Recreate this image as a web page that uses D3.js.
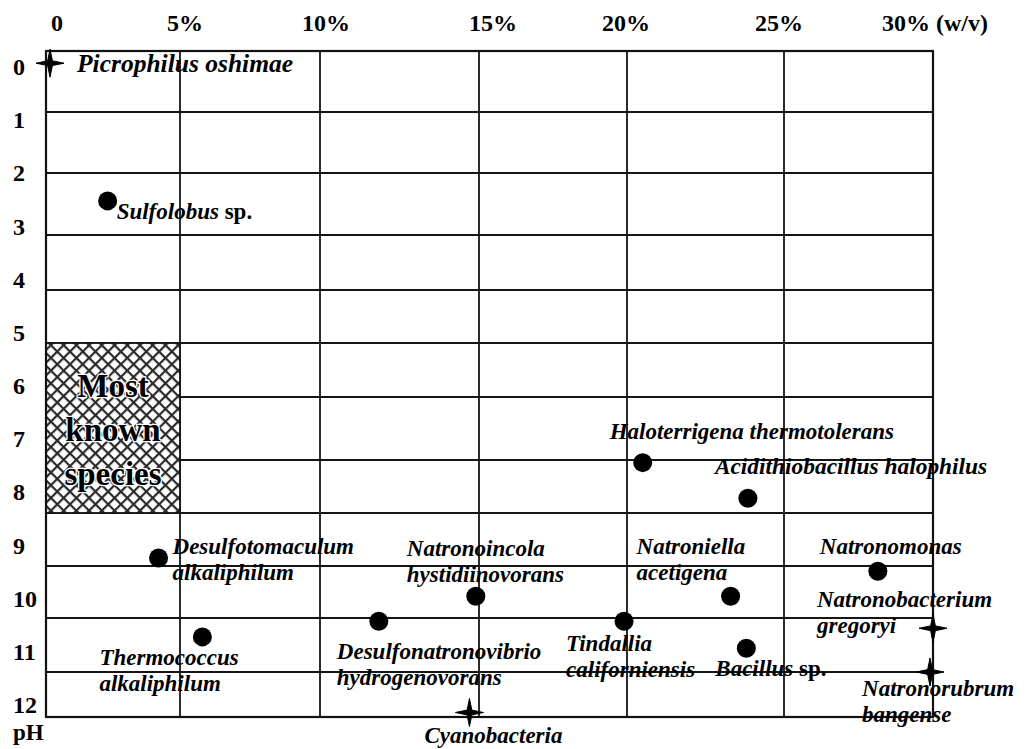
<!DOCTYPE html>
<html><head><meta charset="utf-8">
<script src="https://cdn.jsdelivr.net/npm/d3@7"></script>
<style>html,body{margin:0;padding:0;background:#fff;} svg{display:block;}</style>
</head><body>
<svg id="chart" width="1027" height="749"></svg>
<script>
// ---------- data ----------
const species = [
  "Picrophilus oshimae", "Sulfolobus sp.", "Haloterrigena thermotolerans",
  "Acidithiobacillus halophilus", "Desulfotomaculum alkaliphilum", "Thermococcus alkaliphilum",
  "Natronoincola hystidiinovorans", "Desulfonatronovibrio hydrogenovorans", "Cyanobacteria",
  "Tindallia californiensis", "Natroniella acetigena", "Bacillus sp.",
  "Natronomonas", "Natronobacterium gregoryi", "Natronorubrum bangense"
];
const salinity = [0.15, 2.3, 20.5, 23.85, 4.2, 5.8, 14.9, 11.85, 14.7, 19.9, 23.3, 23.8, 28.15, 30.0, 29.9];
const pHvalue  = [0.2, 2.45, 7.05, 7.72, 8.85, 10.35, 9.58, 10.06, 11.9, 10.06, 9.58, 10.56, 9.1, 10.19, 11.0];
const markerKind = ["star","dot","dot","dot","dot","dot","dot","dot","star","dot","dot","dot","dot","star","star"];
const xTicks = [0, 5, 10, 15, 20, 25, 30];
const xTickLabels = ["0", "5%", "10%", "15%", "20%", "25%", "30% (w/v)"];
const yTicks = [0,1,2,3,4,5,6,7,8,9,10,11,12];
const yTickLabels = yTicks.map(String);
const yAxisTitle = "pH";
const boxText = ["Most", "known", "species"];
const boxSalinity = [0, 5];
const boxPH = [5, 8];

// ---------- layout ----------
const W = 1027, H = 749;
const xRange = [46, 180, 320, 479, 627, 784, 933];
const yRange = [51, 112, 173, 235, 290, 343, 397, 460, 513, 566, 618, 672, 717];
const xLabelDx = [11, 5, 6, 14, -1, -5, -51];
// label offsets from the marker: [dx, dy of first baseline, wrap into two lines, font size]
const labelLayout = [
  [27, 9, false, 25.5], [9, 18, false, 23], [-33, -24, false, 23], [-33, -24, false, 23.4],
  [14, -4, true, 23], [-103, 28, true, 23], [-69, -40, true, 23], [-42, 38, true, 23],
  [-45, 30, false, 23], [-58, 30, true, 23], [-94, -42, true, 23], [-31, 28, false, 23],
  [-58, -17, false, 23], [-116, -21, true, 23], [-68, 24, true, 23]
];
const lineH = 26;
const serif = "'Liberation Serif','Times New Roman',serif";

const svg = d3.select("#chart");
svg.append("rect").attr("width", W).attr("height", H).attr("fill", "#fff");

const x = d3.scaleLinear().domain(xTicks).range(xRange);
const y = d3.scaleLinear().domain(yTicks).range(yRange);
const yLab = d3.scaleLinear().domain([0, 12]).range([75, 713]);

// hatch pattern
const defs = svg.append("defs");
const pat = defs.append("pattern").attr("id", "hatch").attr("patternUnits", "userSpaceOnUse")
  .attr("width", 9).attr("height", 9).attr("patternTransform", "rotate(45)");
pat.append("rect").attr("width", 9).attr("height", 9).attr("fill", "#fff");
pat.append("line").attr("x1", 0).attr("y1", 0).attr("x2", 0).attr("y2", 9).attr("stroke", "#2a2a2a").attr("stroke-width", 4.4);
pat.append("line").attr("x1", 0).attr("y1", 0).attr("x2", 9).attr("y2", 0).attr("stroke", "#2a2a2a").attr("stroke-width", 4.4);

// grid
const grid = svg.append("g").attr("stroke", "#151515").attr("stroke-width", 1.8);
grid.selectAll(".v").data(xTicks.slice(1, -1)).join("line")
  .attr("x1", d => x(d)).attr("x2", d => x(d)).attr("y1", y(0)).attr("y2", y(12));
grid.selectAll(".h").data(yTicks.slice(1, -1)).join("line")
  .attr("x1", x(0)).attr("x2", x(30)).attr("y1", d => y(d)).attr("y2", d => y(d));

// hatched box
svg.append("rect")
  .attr("x", x(boxSalinity[0])).attr("y", y(boxPH[0]))
  .attr("width", x(boxSalinity[1]) - x(boxSalinity[0])).attr("height", y(boxPH[1]) - y(boxPH[0]))
  .attr("fill", "url(#hatch)").attr("stroke", "#151515").attr("stroke-width", 1.8);
const bx = (x(boxSalinity[0]) + x(boxSalinity[1])) / 2;
svg.append("g").selectAll("text").data(boxText).join("text")
  .attr("x", bx).attr("y", (d, i) => 397 + i * 44)
  .attr("text-anchor", "middle")
  .attr("font-family", serif).attr("font-weight", "bold").attr("font-size", 33)
  .attr("fill", "#000").attr("stroke", "#fff").attr("stroke-width", 2.5).attr("paint-order", "stroke")
  .text(d => d);

// border
svg.append("rect").attr("x", x(0)).attr("y", y(0)).attr("width", x(30) - x(0)).attr("height", y(12) - y(0))
  .attr("fill", "none").attr("stroke", "#111").attr("stroke-width", 2.2);

// x tick labels (top)
svg.append("g").selectAll("text").data(xTicks).join("text")
  .attr("x", (d, i) => x(d) + xLabelDx[i])
  .attr("y", 31)
  .attr("text-anchor", (d, i) => i === xTicks.length - 1 ? "start" : "middle")
  .attr("font-family", serif).attr("font-weight", "bold").attr("font-size", 24)
  .text((d, i) => xTickLabels[i]);

// y tick labels (left)
svg.append("g").selectAll("text").data(yTicks).join("text")
  .attr("x", 13).attr("y", d => yLab(d))
  .attr("font-family", serif).attr("font-weight", "bold").attr("font-size", 24)
  .text((d, i) => yTickLabels[i]);
svg.append("text").attr("x", 13).attr("y", 740)
  .attr("font-family", serif).attr("font-weight", "bold").attr("font-size", 23).text(yAxisTitle);

// markers
const star4 = {
  draw(ctx, size) {
    const R = Math.sqrt(size), r = R * 0.24;
    for (let i = 0; i < 8; i++) {
      const a = i * Math.PI / 4 - Math.PI / 2, rad = i % 2 === 0 ? R : r;
      const px = rad * Math.cos(a), py = rad * Math.sin(a);
      if (i) ctx.lineTo(px, py); else ctx.moveTo(px, py);
    }
    ctx.closePath();
  }
};
const pts = species.map((s, i) => ({ name: s, sx: salinity[i], py: pHvalue[i], kind: markerKind[i], lay: labelLayout[i] }));
svg.append("g").selectAll("path").data(pts).join("path")
  .attr("transform", d => `translate(${x(d.sx)},${y(d.py)})`)
  .attr("d", d => d.kind === "star" ? d3.symbol(star4, 196)() : d3.symbol(d3.symbolCircle, Math.PI * 9.5 * 9.5)())
  .attr("fill", "#000").attr("stroke", "#000").attr("stroke-width", d => d.kind === "star" ? 1 : 0);

// labels
const lab = svg.append("g").attr("font-family", serif).attr("font-weight", "bold").attr("fill", "#000");
pts.forEach(p => {
  const [dx, dy, wrap, fs] = p.lay;
  const lines = wrap ? [p.name.slice(0, p.name.indexOf(" ")), p.name.slice(p.name.indexOf(" ") + 1)] : [p.name];
  lines.forEach((ln, li) => {
    const t = lab.append("text").attr("font-size", fs)
      .attr("x", x(p.sx) + dx).attr("y", y(p.py) + dy + li * lineH);
    ln.split(" ").forEach((w, wi) => {
      t.append("tspan").attr("font-style", w === "sp." ? "normal" : "italic").text((wi ? " " : "") + w);
    });
  });
});
</script>
</body></html>
